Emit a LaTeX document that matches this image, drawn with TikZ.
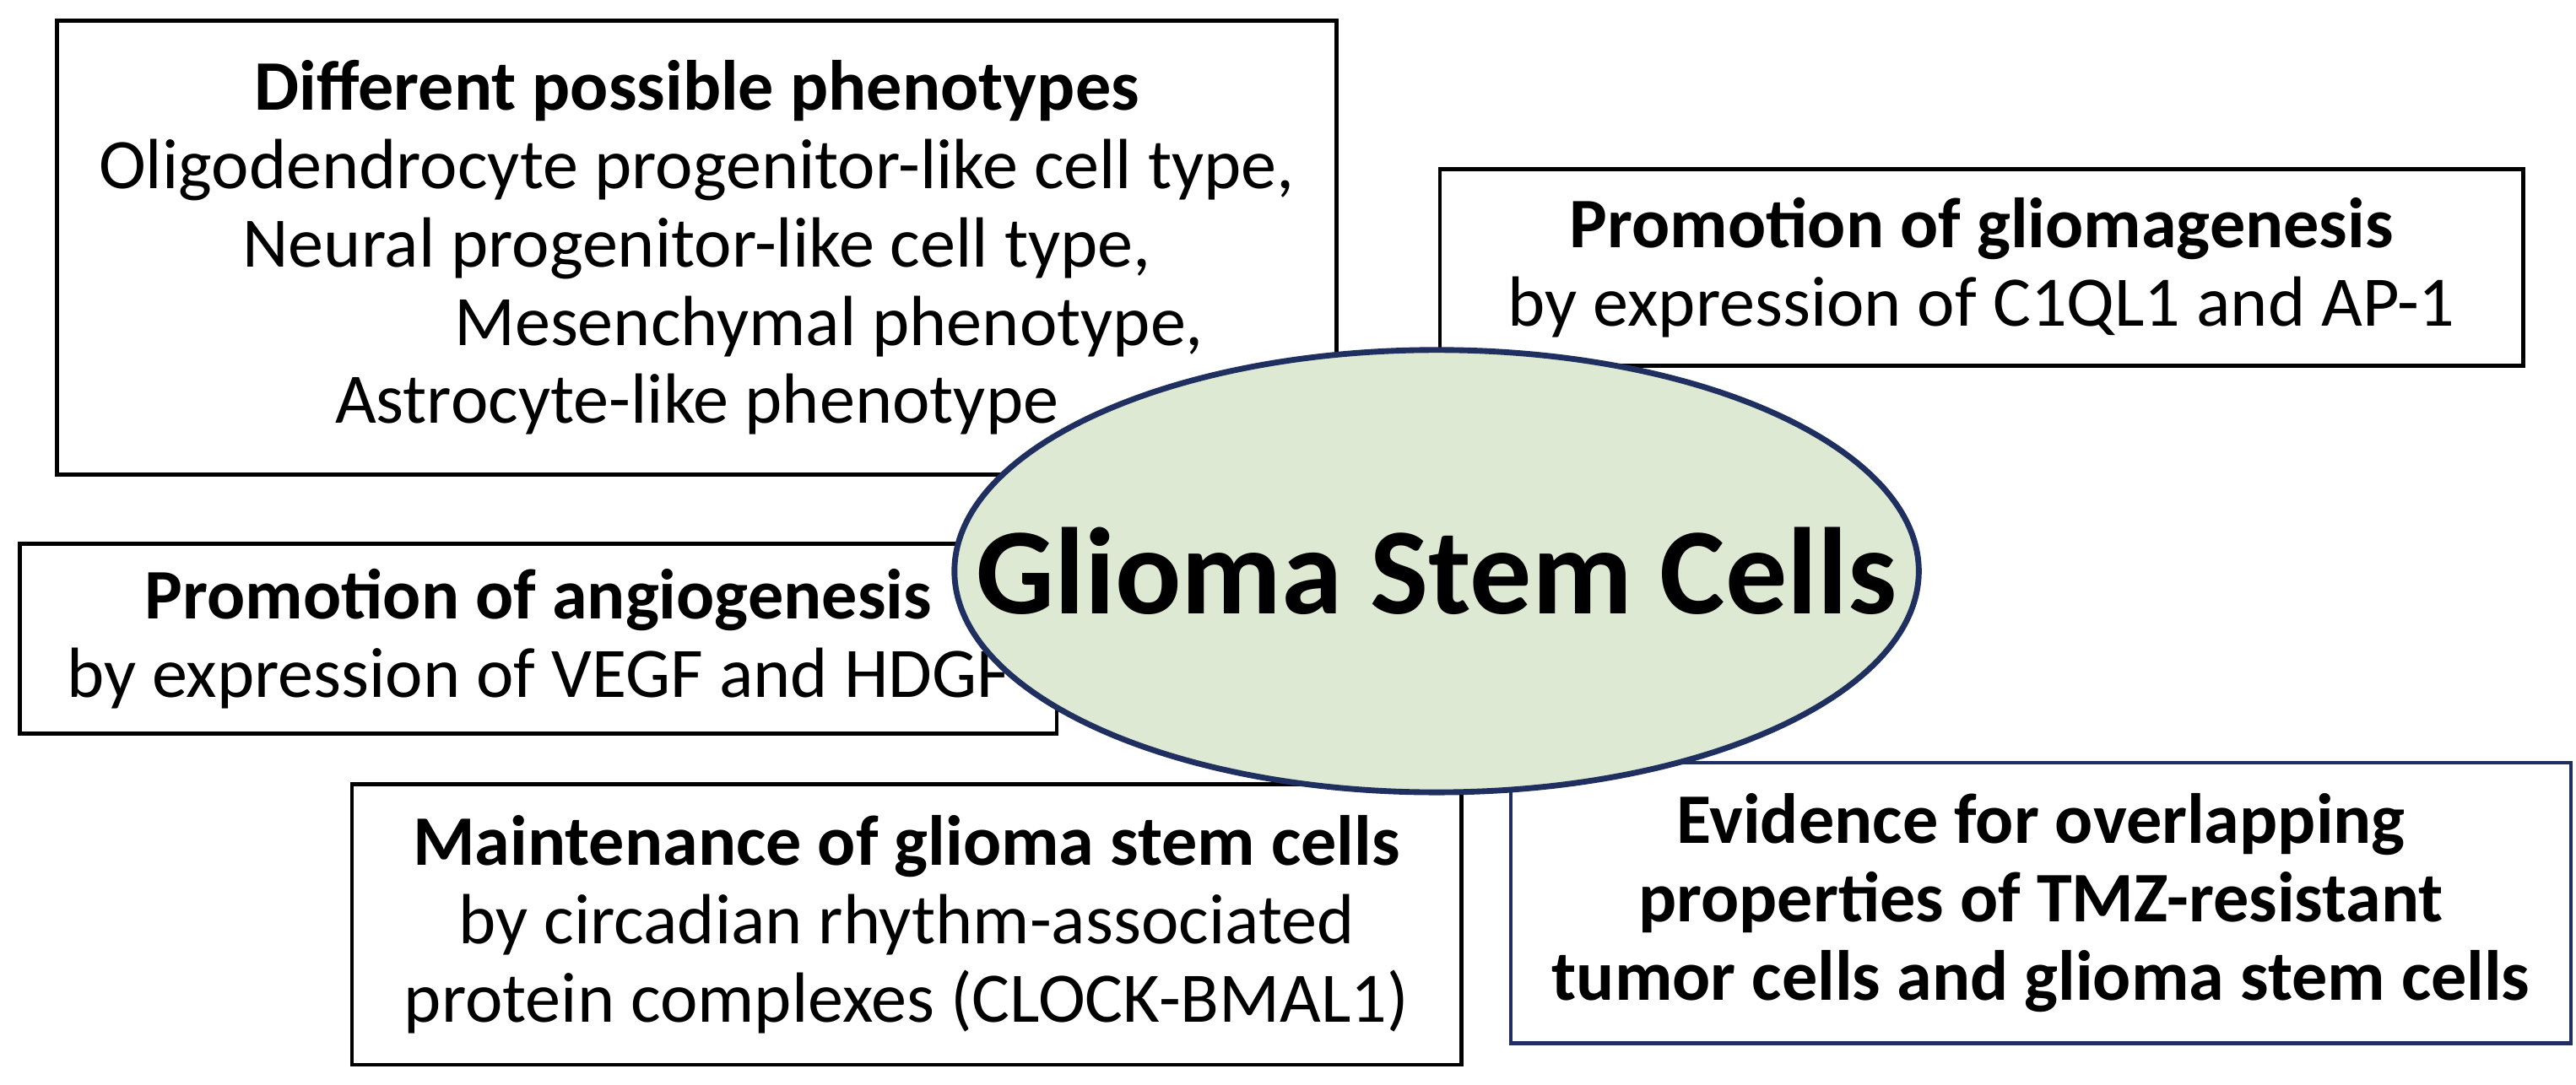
\documentclass[tikz,border=0pt]{standalone}
\usepackage{fontspec}
\setmainfont{Carlito}
\definecolor{navy}{HTML}{1F2F5F}
\definecolor{cellgreen}{HTML}{DDE9D2}
\begin{document}
\begin{tikzpicture}[x=0.02cm,y=-0.02cm,
  box/.style={draw=black,line width=1.3pt,fill=white,align=center,inner sep=0pt,
    font=\fontsize{24.5}{27}\selectfont},
  hd/.style={font=\bfseries}]
\useasboundingbox (0,0) rectangle (1560,657);
\node[box,minimum width=15.5cm,minimum height=5.5cm] (pheno) at (422,150)
  {\textbf{Different possible phenotypes}\\Oligodendrocyte progenitor-like cell type,\\Neural progenitor-like cell type,\\\hspace{3.2cm}Mesenchymal phenotype,\\Astrocyte-like phenotype};
\node[box,minimum width=13.12cm,minimum height=2.38cm] (glio) at (1200,162)
  {\textbf{Promotion of gliomagenesis}\\by expression of C1QL1 and AP-1};
\node[box,minimum width=12.56cm,minimum height=2.3cm] (angio) at (326,387)
  {\textbf{Promotion of angiogenesis}\\by expression of VEGF and HDGF};
\node[box,minimum width=13.44cm,minimum height=3.4cm] (maint) at (549,560)
  {\textbf{Maintenance of glioma stem cells}\\by circadian rhythm-associated\\protein complexes (CLOCK-BMAL1)};
\node[box,draw=navy,minimum width=12.84cm,minimum height=3.4cm] (tmz) at (1236,547)
  {\textbf{Evidence for overlapping}\\\textbf{properties of TMZ-resistant}\\\textbf{tumor cells and glioma stem cells}};
\draw[navy,line width=2pt,fill=cellgreen] (870,346) ellipse [x radius=292, y radius=134];
\node[inner sep=0pt,font=\fontsize{42.5}{48}\selectfont\bfseries] (gsc) at (870,346) {Glioma Stem Cells};
\end{tikzpicture}
\end{document}
